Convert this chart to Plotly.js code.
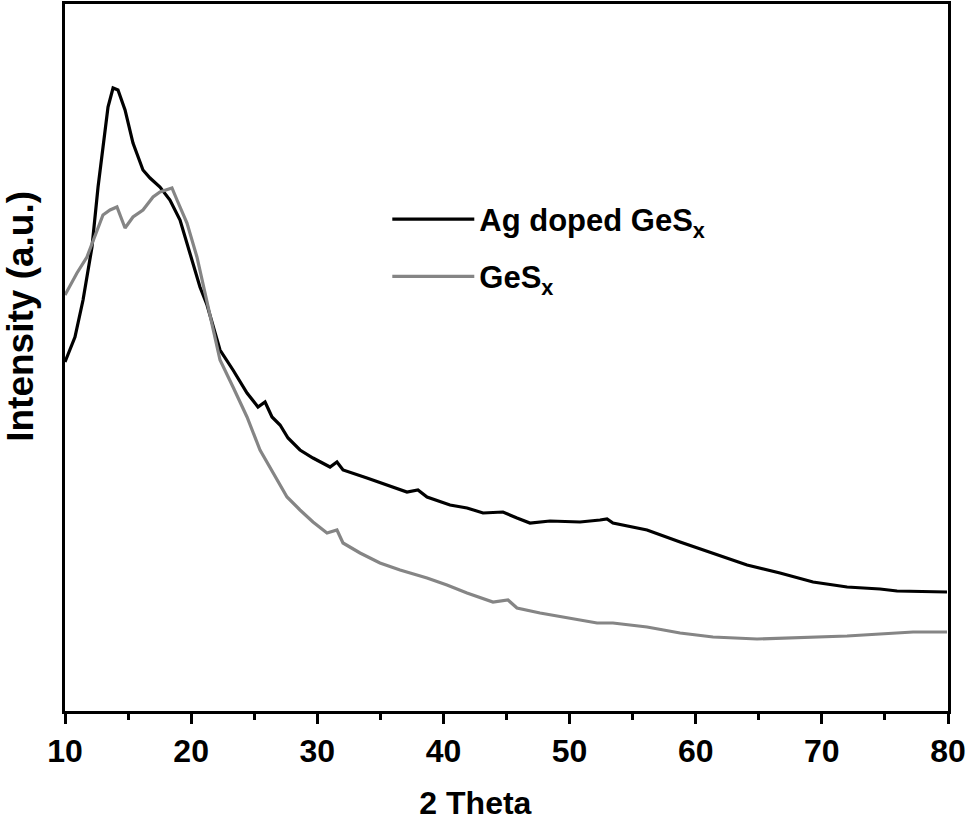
<!DOCTYPE html>
<html>
<head>
<meta charset="utf-8">
<script src="https://cdn.plot.ly/plotly-3.0.1.min.js"></script>
<style>html,body{margin:0;padding:0;background:#fff;}#chart{width:969px;height:821px;}</style>
</head>
<body>
<div id="chart"></div>
<script>
// 2 Theta (degrees)
var agTheta = [10.00,10.79,11.43,12.14,12.62,13.01,13.41,13.81,14.20,14.76,15.39,16.18,16.74,17.53,18.32,19.12,19.91,20.70,21.26,22.29,23.32,24.43,25.30,25.86,26.41,27.05,27.68,28.63,29.66,31.01,31.56,32.04,33.94,35.53,37.11,37.98,38.70,40.52,41.87,43.14,44.72,45.83,46.86,48.45,49.80,50.83,52.41,52.97,53.44,56.14,58.76,61.37,64.07,66.68,69.30,72.00,74.61,75.96,79.92];
// Intensity (a.u.) for Ag doped GeSx
var agIntensity = [349,374,411,464,524,564,604,623,621,601,568,541,533,524,511,491,458,424,406,361,341,318,304,309,294,286,273,261,253,244,249,241,233,226,219,221,214,206,203,198,199,193,188,190,189,189,191,192,188,181,169,158,146,138,129,124,122,120,119];

var gesTheta = [10.00,10.95,11.74,12.54,13.01,13.57,14.12,14.76,15.39,16.18,16.98,17.53,18.09,18.48,18.88,19.67,20.46,21.26,22.29,23.32,24.43,25.46,26.49,27.60,28.63,29.66,30.77,31.56,32.04,33.39,34.97,36.56,38.70,40.28,41.87,43.93,45.12,45.83,47.66,49.80,52.18,53.44,56.14,58.76,61.37,64.86,68.03,72.00,74.61,77.23,79.92];
// Intensity (a.u.) for GeSx
var gesIntensity = [416,438,454,481,496,501,504,483,494,501,514,519,521,523,511,488,454,408,351,324,294,261,238,214,201,189,178,181,168,158,148,141,133,126,118,109,111,103,98,93,88,88,84,78,74,72,73,75,77,79,79];

var seriesNames = ['Ag doped GeS<sub>x</sub>', 'GeS<sub>x</sub>'];
var xTicks = [10,20,30,40,50,60,70,80];
var xTitle = '2 Theta';
var yTitle = 'Intensity (a.u.)';

var FONT = 'Liberation Sans, Arial, sans-serif';
var NB = '\u00a0';
var ZW = '\u200b';

var traces = [
  {x: agTheta, y: agIntensity, type: 'scatter', mode: 'lines', name: seriesNames[0],
   legendgroup: 'a', line: {color: '#000000', width: 3.2}},
  {x: gesTheta, y: gesIntensity, type: 'scatter', mode: 'lines', name: seriesNames[1],
   legendgroup: 'b', line: {color: '#858585', width: 3.2}}
];

var layout = {
  width: 969, height: 821,
  margin: {l: 65, r: 21, t: 4, b: 110},
  paper_bgcolor: '#ffffff', plot_bgcolor: '#ffffff',
  showlegend: true,
  legend: {x: 0.365, y: 0.655, xanchor: 'left', yanchor: 'middle',
           bgcolor: 'rgba(0,0,0,0)', itemwidth: 82, traceorder: 'grouped', tracegroupgap: 14,
           font: {family: FONT, size: 31, color: '#000', weight: 'bold'}},
  xaxis: {
    range: [10, 80], tickvals: xTicks, ticktext: xTicks.map(String),
    ticks: 'outside', ticklen: 10, tickwidth: 3, tickcolor: '#000',
    minor: {dtick: 5, tick0: 5, ticks: 'outside', ticklen: 6, tickwidth: 3, tickcolor: '#000'},
    showline: true, linewidth: 3, linecolor: '#000', mirror: true,
    showgrid: false, zeroline: false,
    tickfont: {family: FONT, size: 32, color: '#000', weight: 'bold'},
    title: {text: xTitle + NB.repeat(7) + ZW, standoff: 26, font: {family: FONT, size: 32, color: '#000', weight: 'bold'}}
  },
  yaxis: {
    range: [0, 707], showticklabels: false, ticks: '',
    showline: true, linewidth: 3, linecolor: '#000', mirror: true,
    showgrid: false, zeroline: false,
    title: {text: ZW + NB.repeat(8) + yTitle, standoff: 18, font: {family: FONT, size: 37, color: '#000', weight: 'bold'}}
  }
};

Plotly.newPlot('chart', traces, layout, {displayModeBar: false, staticPlot: true});
</script>
</body>
</html>
